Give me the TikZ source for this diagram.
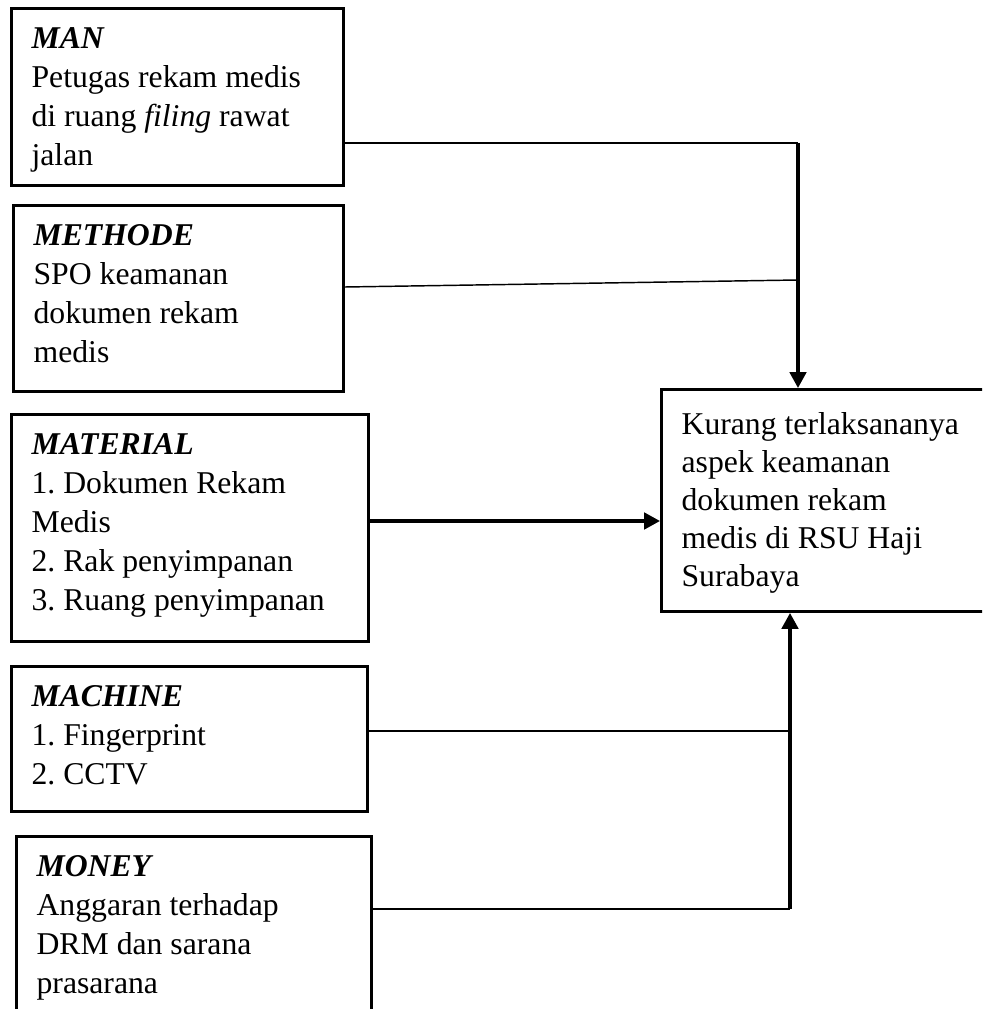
\documentclass[tikz,border=0pt]{standalone}
\usepackage{fontspec}
\setmainfont{Liberation Serif}
\usetikzlibrary{arrows.meta}
\frenchspacing
\newlength\px
\setlength\px{0.3785pt}
% box body: width, height (in px), text
\newcommand{\causebox}[3]{\parbox[c][#2\px][t]{#1\px}{\strut#3}}
\tikzset{
    factor/.style={
        draw,
        line width=1.15pt,
        anchor=north west,
        inner xsep=7.6pt,
        inner ysep=4.8pt,
        font=\fontsize{12}{14.76}\selectfont
    },
    effect/.style={
        inner ysep=6.8pt,
        font=\fontsize{12}{14.4}\selectfont
    },
    link/.style={line width=0.55pt},
    main link/.style={
        line width=1.3pt,
        -{Triangle[length=6pt, width=6.2pt]}
    }
}
\begin{document}
\begin{tikzpicture}[x=\px, y=-\px]
    \useasboundingbox (0,0) rectangle (982,1009);
    \clip (0,0) rectangle (982,1009);
    % the five causes
    \node[factor] (man) at (10,7)
        {\causebox{292}{151.6}{\textbf{\textit{MAN}}\\Petugas rekam medis\\di ruang \textit{filing} rawat\\jalan}};
    \node[factor] (methode) at (12,204)
        {\causebox{290}{160.6}{\textbf{\textit{METHODE}}\\SPO keamanan\\dokumen rekam\\medis}};
    \node[factor] (material) at (10,413)
        {\causebox{317}{201.6}{\textbf{\textit{MATERIAL}}\\1. Dokumen Rekam\\Medis\\2. Rak penyimpanan\\3. Ruang penyimpanan}};
    \node[factor] (machine) at (10,665)
        {\causebox{316}{119.6}{\textbf{\textit{MACHINE}}\\1. Fingerprint\\2. CCTV}};
    \node[factor] (money) at (15,835)
        {\causebox{315}{194.6}{\textbf{\textit{MONEY}}\\Anggaran terhadap\\DRM dan sarana\\prasarana}};
    % the effect
    \node[factor, effect] (akibat) at (660,388)
        {\causebox{320}{186}{Kurang terlaksananya\\aspek keamanan\\dokumen rekam\\medis di RSU Haji\\Surabaya}};
    % joints
    \coordinate (atas) at (798,143);
    \coordinate (bawah) at (790,909);
    % connectors
    \draw[link] (man.east |- atas) -- (atas);
    \draw[link] (methode.east |- 0,287) -- (atas |- 0,280);
    \draw[main link] (atas) -- (atas |- akibat.north);
    \draw[main link] (material.east |- 0,521) -- (akibat.west |- 0,521);
    \draw[link] (machine.east |- 0,731) -- (792,731);
    \draw[link] (money.east |- bawah) -- (bawah);
    \draw[main link] (bawah) -- (bawah |- akibat.south);
\end{tikzpicture}
\end{document}
